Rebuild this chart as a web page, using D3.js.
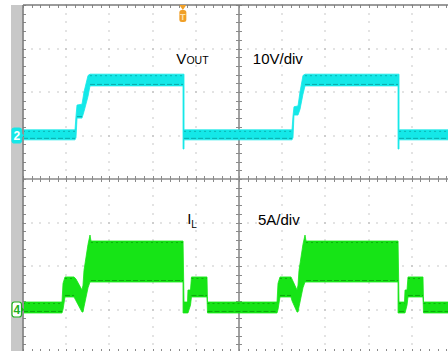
<!DOCTYPE html>
<html>
<head>
<meta charset="utf-8">
<script src="https://cdn.jsdelivr.net/npm/d3@7"></script>
<style>
  html, body { margin: 0; padding: 0; background: #fff; overflow: hidden; }
  svg { display: block; }
  text { font-family: "Liberation Sans", Arial, sans-serif; }
</style>
</head>
<body>
<svg id="scope" width="448" height="351"></svg>
<script>
// Screen layout: 10 x 8 divisions, 5 minor ticks per division
const hDivs = 10, vDivs = 8, minorPerDiv = 5;

// Channel 2 (VOUT, 10 V/div, zero 1 div above centre)
const voutScale = 10, voutOffsetDiv = 1;
// Channel 4 (IL, 5 A/div, zero 3 div below centre)
const ilScale = 5, ilOffsetDiv = -3;

// VOUT envelope: time in divisions, min / max in volts
const vTime = [0, 1.204, 1.227, 1.250, 1.366, 1.412, 1.505, 1.551, 3.704, 3.705, 3.727, 3.728,
               6.227, 6.250, 6.273, 6.366, 6.412, 6.481, 6.528, 8.681, 8.682, 8.704, 8.705, 10];
const vMin  = [-1.0, -1.0, -0.5, 4.0, 4.0, 5.5, 9.0, 11.4, 11.4, -3.1, -3.1, -1.0,
               -1.0, -0.5, 4.7, 4.7, 6.0, 9.5, 11.4, 11.4, -3.1, -3.1, -1.0, -1.0];
const vMax  = [1.3, 1.3, 4.5, 7.0, 7.2, 10.0, 13.8, 14.1, 14.1, 14.1, 14.1, 1.3,
               1.3, 4.5, 6.6, 6.8, 10.0, 13.8, 14.1, 14.1, 14.1, 14.1, 1.3, 1.3];

// IL envelope: time in divisions, min / max in amps
const iTime = [0, 0.903, 0.926, 0.972, 1.181, 1.227, 1.366, 1.389, 1.412, 1.505, 1.551, 1.574,
               3.704, 3.705, 3.727, 3.808, 3.819, 3.877, 3.900, 4.259, 4.271,
               5.880, 5.903, 5.949, 6.204, 6.227, 6.343, 6.366, 6.389, 6.481, 6.528, 6.551,
               8.681, 8.682, 8.704, 8.831, 8.843, 8.889, 8.912, 9.259, 9.271, 10];
const iMin  = [-0.4, -0.4, 0.0, 1.44, 1.44, 1.0, -0.29, -0.29, 0.3, 2.5, 3.16, 3.16,
               3.16, -0.4, -0.4, -0.4, -0.4, 0.5, 1.44, 1.44, -0.4,
               -0.4, 0.0, 1.44, 1.44, 1.0, -0.29, -0.29, 0.3, 2.5, 3.16, 3.16,
               3.16, -0.4, -0.4, -0.4, -0.4, 0.5, 1.44, 1.44, -0.4, -0.4];
const iMax  = [0.86, 0.86, 3.0, 3.74, 3.74, 3.5, 2.24, 2.8, 4.5, 7.5, 8.56, 7.87,
               7.87, 7.87, 0.86, 0.86, 2.24, 2.24, 3.74, 3.74, 0.86,
               0.86, 3.0, 3.74, 3.74, 3.5, 2.24, 2.8, 4.5, 7.5, 8.56, 7.87,
               7.87, 7.87, 0.86, 0.86, 2.24, 2.24, 3.74, 3.74, 0.86, 0.86];

const triggerDiv = 3.70;
const labels = [
  { main: "V", sub: "OUT", t: 3.55, div: 2.65 },
  { main: "10V/div", sub: "", t: 5.32, div: 2.65 },
  { main: "I", sub: "L", t: 3.80, div: -1.03 },
  { main: "5A/div", sub: "", t: 5.44, div: -1.05 }
];

const cyan = "#14E8E8", cyanDark = "#0A9C9C";
const green = "#16E416", greenDark = "#0A9A0A";

const svg = d3.select("#scope");
const x = d3.scaleLinear().domain([0, hDivs]).range([23, 455]);
const y = d3.scaleLinear().domain([-vDivs / 2, vDivs / 2]).range([353, 5]);
const yV = v => y(v / voutScale + voutOffsetDiv);
const yI = a => y(a / ilScale + ilOffsetDiv);

// side bar
svg.append("rect").attr("x", 11).attr("y", 5).attr("width", 11.5).attr("height", 346).attr("fill", "#C8C8C8");

const grid = svg.append("g");
const minorStep = 1 / minorPerDiv;
// dotted graticule
for (let k = 1; k < hDivs; k++) {
  if (k === hDivs / 2) continue;
  for (let m = -vDivs / 2 * minorPerDiv; m <= vDivs / 2 * minorPerDiv; m++) {
    grid.append("rect").attr("x", Math.round(x(k)) - 0.5).attr("y", Math.round(y(m * minorStep)) - 0.5)
      .attr("width", 1).attr("height", 1).attr("fill", "#8E8E8E");
  }
}
for (let k = -vDivs / 2 + 1; k < vDivs / 2; k++) {
  if (k === 0) continue;
  for (let m = 0; m <= hDivs * minorPerDiv; m++) {
    grid.append("rect").attr("x", Math.round(x(m * minorStep)) - 0.5).attr("y", Math.round(y(k)) - 0.5)
      .attr("width", 1).attr("height", 1).attr("fill", "#8E8E8E");
  }
}
// centre axes with minor ticks
const axisColor = "#8A8A8A";
grid.append("line").attr("x1", x(0)).attr("x2", x(hDivs)).attr("y1", y(0)).attr("y2", y(0))
  .attr("stroke", axisColor).attr("stroke-width", 1.6);
grid.append("line").attr("x1", x(hDivs / 2)).attr("x2", x(hDivs / 2)).attr("y1", y(vDivs / 2)).attr("y2", y(-vDivs / 2))
  .attr("stroke", axisColor).attr("stroke-width", 1.6);
for (let m = 0; m <= hDivs * minorPerDiv; m++) {
  const px = Math.round(x(m * minorStep)) + 0.5;
  grid.append("line").attr("x1", px).attr("x2", px).attr("y1", y(0) - 3).attr("y2", y(0) + 3)
    .attr("stroke", axisColor).attr("stroke-width", 1);
  grid.append("line").attr("x1", px).attr("x2", px).attr("y1", y(vDivs / 2)).attr("y2", y(vDivs / 2) + 3)
    .attr("stroke", axisColor).attr("stroke-width", 1);
  grid.append("line").attr("x1", px).attr("x2", px).attr("y1", y(-vDivs / 2) - 4).attr("y2", y(-vDivs / 2))
    .attr("stroke", axisColor).attr("stroke-width", 1);
}
for (let m = -vDivs / 2 * minorPerDiv; m <= vDivs / 2 * minorPerDiv; m++) {
  const py = Math.round(y(m * minorStep)) + 0.5;
  grid.append("line").attr("x1", x(hDivs / 2) - 3).attr("x2", x(hDivs / 2) + 3).attr("y1", py).attr("y2", py)
    .attr("stroke", axisColor).attr("stroke-width", 1);
  grid.append("line").attr("x1", x(0)).attr("x2", x(0) + 3).attr("y1", py).attr("y2", py)
    .attr("stroke", axisColor).attr("stroke-width", 1);
}
// borders
grid.append("line").attr("x1", x(0)).attr("x2", x(hDivs)).attr("y1", y(vDivs / 2)).attr("y2", y(vDivs / 2))
  .attr("stroke", "#7A7A7A").attr("stroke-width", 1.6);
grid.append("line").attr("x1", x(0)).attr("x2", x(0)).attr("y1", y(vDivs / 2)).attr("y2", y(-vDivs / 2))
  .attr("stroke", "#7A7A7A").attr("stroke-width", 1.6);

// traces
svg.append("clipPath").attr("id", "plot").append("rect")
  .attr("x", x(0) + 1).attr("y", y(vDivs / 2) + 1).attr("width", x(hDivs) - x(0)).attr("height", y(-vDivs / 2) - y(vDivs / 2));
const traces = svg.append("g").attr("clip-path", "url(#plot)");

function drawTrace(time, lo, hi, ys, fill, dark) {
  const pts = time.map((t, i) => ({ t, lo: lo[i], hi: hi[i] }));
  traces.append("path").datum(pts)
    .attr("d", d3.area().x(d => x(d.t)).y0(d => ys(d.lo)).y1(d => ys(d.hi)))
    .attr("fill", fill).attr("stroke", fill).attr("stroke-width", 0.8);
  // darker ripple edges along the flat plateaus
  for (let i = 0; i < pts.length - 1; i++) {
    const a = pts[i], b = pts[i + 1];
    if (b.t - a.t < 0.1) continue;
    if (a.hi === b.hi) {
      traces.append("line").attr("x1", x(a.t)).attr("x2", x(b.t))
        .attr("y1", ys(a.hi) + 1.5).attr("y2", ys(b.hi) + 1.5)
        .attr("stroke", dark).attr("stroke-width", 1).attr("stroke-dasharray", "2,3").attr("opacity", 0.7);
    }
    if (a.lo === b.lo) {
      traces.append("line").attr("x1", x(a.t)).attr("x2", x(b.t))
        .attr("y1", ys(a.lo) - 1.5).attr("y2", ys(b.lo) - 1.5)
        .attr("stroke", dark).attr("stroke-width", 1).attr("stroke-dasharray", "5,2").attr("opacity", 0.8);
    }
  }
}
drawTrace(vTime, vMin, vMax, yV, cyan, cyanDark);
drawTrace(iTime, iMin, iMax, yI, green, greenDark);

// channel ground markers
function marker(yPos, label, fill, stroke, textColor) {
  const g = svg.append("g").attr("transform", `translate(12,${yPos})`);
  g.append("path").attr("d", "M9,-3 L12,0 L9,3 Z").attr("fill", stroke);
  g.append("rect").attr("x", 0).attr("y", -7.5).attr("width", 9.5).attr("height", 15).attr("rx", 2.5)
    .attr("fill", fill).attr("stroke", stroke).attr("stroke-width", 1.2);
  g.append("text").attr("x", 4.8).attr("y", 4.5).attr("text-anchor", "middle")
    .attr("font-size", 12).attr("font-weight", "bold").attr("fill", textColor).text(label);
}
marker(yV(0), "2", cyan, cyan, "#fff");
marker(yI(0), "4", "#fff", "#1FB01F", "#1FB01F");

// trigger position marker
const tg = svg.append("g").attr("transform", `translate(${x(triggerDiv)},${y(vDivs / 2)})`);
tg.append("path").attr("d", "M-3.5,0 L3.5,0 L0,5 Z").attr("fill", "#F0A028");
tg.append("rect").attr("x", -3.5).attr("y", 5).attr("width", 7).attr("height", 12).attr("rx", 2.5).attr("fill", "#F0A028");
tg.append("text").attr("x", 0).attr("y", 14.5).attr("text-anchor", "middle").attr("font-size", 9)
  .attr("font-weight", "bold").attr("fill", "#FFE3B0").text("T");

// channel annotations
labels.forEach(l => {
  const t = svg.append("text").attr("x", x(l.t)).attr("y", y(l.div)).attr("font-size", 15).attr("fill", "#000");
  t.append("tspan").text(l.main);
  if (l.sub) {
    t.append("tspan").attr("font-size", l.sub.length > 1 ? 10.5 : 10)
      .attr("dy", l.sub.length > 1 ? 0 : 4).text(l.sub);
  }
});
</script>
</body>
</html>
